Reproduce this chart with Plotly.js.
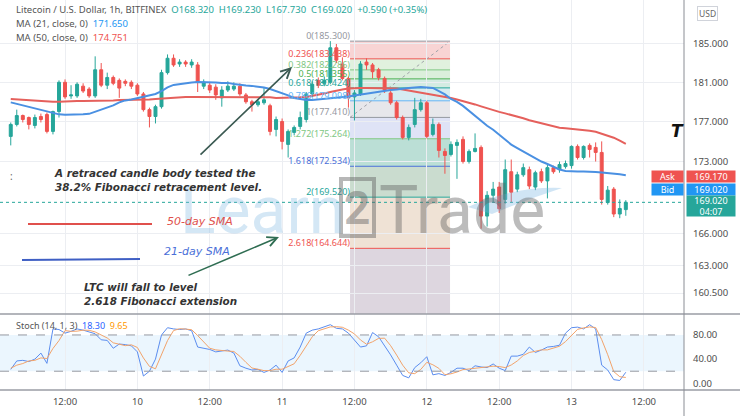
<!DOCTYPE html>
<html><head><meta charset="utf-8">
<script src="https://cdn.plot.ly/plotly-3.0.1.min.js"></script>
<style>html,body{margin:0;padding:0;background:#fff}#chart{width:740px;height:416px}</style>
</head><body><div id="chart"></div>
<script>
// ---------- data ----------
const startDay = 9, startHour = 3; // first hourly candle: 2021-10-09 03:00
const openP = [175.5,176.7,177.6,177.4,176.6,177.5,177.7,176.0,178.0,181.0,
179.6,179.6,180.6,180.3,179.6,182.3,180.7,181.5,181.2,181.1,
181.0,180.7,179.8,178.2,177.5,178.5,182.0,183.5,182.9,183.1,
182.8,182.8,180.6,180.7,180.5,179.4,180.2,180.3,180.6,179.7,
179.0,178.7,178.9,178.6,176.2,177.0,174.7,175.9,176.5,177.2,
179.8,181.2,180.9,181.0,184.6,182.9,181.4,179.5,179.8,183.1,
182.8,182.3,181.4,179.9,178.9,177.4,175.4,176.7,178.2,178.9,
175.7,176.7,174.0,173.7,174.6,175.2,173.0,174.0,174.4,167.7,
169.7,170.5,169.3,172.0,170.3,171.7,172.2,170.5,172.0,171.1,
172.4,172.2,172.5,172.6,174.5,173.4,174.6,174.4,173.9,169.0,
170.3,167.9,168.32];
const highP = [176.9,178.2,177.7,177.5,177.7,177.8,177.9,178.1,181.2,181.3,
180.7,181.0,180.9,180.5,183.7,183.0,182.0,181.7,181.4,181.3,
181.2,180.9,180.0,178.4,178.7,182.3,183.9,183.9,183.4,183.3,
183.4,183.1,181.3,181.0,180.8,180.6,181.1,181.0,180.9,179.9,
179.2,179.3,180.5,178.8,177.5,177.3,176.2,176.6,178.0,180.0,
181.1,181.5,181.6,185.3,185.0,183.6,181.6,180.2,183.2,183.5,
183.0,182.5,181.6,180.1,179.1,177.6,176.7,179.4,179.3,179.1,
177.3,176.9,174.3,175.0,175.2,175.5,174.2,175.8,174.6,170.1,
171.0,171.0,173.2,173.2,172.0,172.8,172.5,172.1,172.3,172.7,
172.6,173.0,173.1,174.6,174.7,174.6,174.8,174.9,175.0,170.6,
170.5,169.3,169.23];
const lowP = [174.6,176.5,176.9,176.2,176.3,176.9,175.8,175.7,177.4,179.3,
179.3,179.4,179.9,179.4,179.4,180.5,180.3,180.7,179.4,180.6,
180.3,179.6,178.0,176.4,176.8,178.3,181.8,182.6,182.6,182.6,
182.5,180.0,180.3,179.9,179.2,178.5,180.0,180.1,179.6,178.8,
178.0,178.5,178.7,175.6,175.5,174.2,173.4,175.6,176.2,176.9,
179.5,180.4,180.6,180.8,183.0,181.2,178.4,177.1,179.6,182.3,
181.4,181.2,179.9,178.7,177.2,175.2,175.1,176.4,178.0,175.3,
175.5,173.4,171.8,173.5,171.3,172.8,172.8,173.9,166.5,166.7,
169.0,168.0,168.9,169.0,170.0,171.5,170.3,170.2,170.9,169.4,
171.8,171.9,172.3,172.3,173.2,173.2,173.4,173.0,168.8,168.8,
167.6,167.5,167.73];
const closeP = [176.7,177.6,177.2,176.7,177.4,177.2,176.0,178.0,181.0,179.5,
179.7,180.8,180.1,179.6,182.3,180.7,181.5,180.9,180.4,180.9,
180.6,179.8,178.2,177.5,178.5,182.0,183.5,182.8,183.1,182.9,
183.1,181.0,181.0,180.2,179.7,180.2,180.6,180.6,179.8,179.0,
178.7,179.0,179.2,176.0,177.2,175.0,176.0,176.4,177.4,179.8,
180.8,180.7,181.2,184.6,183.3,181.4,179.4,179.9,182.9,182.8,
182.1,181.5,180.2,178.9,177.4,175.4,176.4,178.2,178.9,175.5,
176.7,174.1,173.6,174.7,174.9,173.0,174.0,174.3,167.7,169.7,
170.3,168.4,172.2,170.0,171.7,172.4,170.6,171.9,171.1,172.4,
172.0,172.7,172.8,174.5,173.4,174.5,174.2,173.9,169.3,170.2,
167.9,168.43,169.02];
const ma21 = [178.94,178.78,178.63,178.48,178.33,178.18,178.02,177.87,177.72,177.67,
177.67,177.67,177.72,177.77,177.97,178.18,178.38,178.63,178.94,179.14,
179.24,179.39,179.55,179.65,179.8,180.1,180.47,180.73,180.83,180.94,
180.99,181.04,181.04,181.04,180.99,180.94,180.94,180.83,180.73,180.68,
180.63,180.57,180.47,180.31,180.1,179.9,179.65,179.39,179.29,179.19,
179.19,179.24,179.29,179.34,179.39,179.45,179.55,179.65,179.75,179.85,
179.9,180.0,180.1,180.21,180.26,180.36,180.42,180.47,180.52,180.47,
180.42,180.1,179.75,179.29,178.99,178.58,178.07,177.52,177.02,176.57,
176.17,175.67,175.12,174.68,174.33,173.99,173.64,173.3,173.0,172.76,
172.47,172.22,172.08,172.03,172.03,172.03,172.03,171.98,171.93,171.88,
171.79,171.74,171.65];
const ma50 = [179.29,179.24,179.19,179.14,179.09,179.04,178.99,178.99,178.99,179.04,
179.04,179.09,179.09,179.09,179.09,179.09,179.14,179.14,179.19,179.19,
179.19,179.19,179.19,179.24,179.29,179.34,179.39,179.45,179.45,179.5,
179.5,179.5,179.5,179.5,179.5,179.5,179.5,179.5,179.5,179.5,
179.5,179.45,179.45,179.45,179.39,179.39,179.39,179.39,179.45,179.5,
179.6,179.7,179.85,180.0,180.16,180.26,180.36,180.42,180.42,180.42,
180.42,180.42,180.42,180.42,180.36,180.26,180.16,180.05,179.95,179.85,
179.7,179.6,179.5,179.39,179.24,179.09,178.94,178.73,178.53,178.33,
178.18,177.97,177.82,177.67,177.47,177.32,177.12,176.97,176.77,176.62,
176.47,176.37,176.32,176.27,176.22,176.17,176.07,175.97,175.77,175.57,
175.37,175.07,174.751];
const stochK = [23,37,38,36,40,50,33,90,89,83,
86,90,88,85,82,72,71,58,65,64,
62,52,12,20,40,80,92,90,89,90,
87,60,58,56,52,53,55,50,29,25,
22,23,18,22,30,18,37,42,60,83,
88,90,93,97,91,90,83,72,60,62,
84,77,63,47,30,13,9,26,34,44,
14,16,13,18,25,25,21,29,27,26,
32,25,21,45,45,48,60,51,55,60,
61,63,83,92,93,90,97,90,30,22,
6,4.7,18.3];
const stochD = [25,30,32.7,37,38,42,41,57.7,70.7,87.3,
86,86.3,88,87.7,85,79.7,75,67,64.7,62.3,
63.7,59.3,42,28,24,46.7,70.7,87.3,90.3,89.7,
88.7,79,68.3,58,55.3,53.7,53.3,52.7,44.7,34.7,
25.3,23.3,21,21,23.3,23.3,28.3,32.3,46.3,61.7,
77,87,90.3,93.3,93.7,92.7,88,81.7,71.7,64.7,
68.7,74.3,74.7,62.3,46.7,30,17.3,16,23,34.7,
30.7,24.7,14.3,15.7,18.7,22.7,23.7,25,25.7,27.3,
28.3,27.7,26,30.3,37,46,51,53,55.3,55.3,
58.7,61.3,69,79.3,89.3,91.7,93.3,92.3,72.3,47.3,
19.3,10.9,9.65];
const askPrice = 169.170, bidPrice = 169.020;
const barCountdown = '04:07';
const priceTickVals = [160.5, 163, 166, 173, 177, 181, 185];
const stochTickVals = [0, 40, 80];
const stochBands = [20, 80];
const timeTickVals = ['2021-10-09 12:00','2021-10-10 00:00','2021-10-10 12:00','2021-10-11 00:00',
  '2021-10-11 12:00','2021-10-12 00:00','2021-10-12 12:00','2021-10-13 00:00','2021-10-13 12:00'];
const timeTickText = ['12:00','10','12:00','11','12:00','12','12:00','13','12:00'];
const fibRatios = [0, 0.236, 0.382, 0.5, 0.618, 0.786, 1, 1.272, 1.618, 2, 2.618];
const fibStart = 185.300, fibEnd = 177.410;
const fibX0 = '2021-10-11 11:16', fibX1 = '2021-10-12 03:51';

// ---------- view / styles ----------
const W = 740, H = 416;
const px = v => v / W, py = v => 1 - v / H;
const xStart = '2021-10-09 01:13', xEnd = '2021-10-13 18:39';
const priceMin = 158.59, priceMax = 189.70;
const stochMin = -11.1, stochMax = 114.7;
const mainTop = 0, mainBottom = 314, stochBottom = 390, axisX = 684;
const UP = '#26a69a', DOWN = '#ef5350';
const fibLineColors = ['#9598a1','#ef5350','#81c784','#4caf50','#26a69a','#64b5f6','#9598a1','#81c784','#4a6fd8','#26a69a','#ef5350'];
const fibBandColors = ['#f8d4d4','#e1f1de','#dbefdb','#d3ece2','#d6ecf1','#e7e7eb','#dfe3f6','#bbdfd6','#cadccf','#efe2d5','#ddd6df'];

const pad = n => String(n).padStart(2, '0');
const times = openP.map((_, i) => {
  const h = startHour + i;
  return `2021-10-${pad(startDay + Math.floor(h / 24))} ${pad(h % 24)}:00`;
});
const n = closeP.length;
const fibPrices = fibRatios.map(r => fibStart - r * (fibStart - fibEnd));

const traces = [
  {type:'candlestick', x: times, open: openP, high: highP, low: lowP, close: closeP,
   xaxis:'x', yaxis:'y', whiskerwidth: 0,
   increasing:{line:{color:UP, width:1}, fillcolor:UP},
   decreasing:{line:{color:DOWN, width:1}, fillcolor:DOWN}, hoverinfo:'skip'},
  {type:'scatter', mode:'lines', x: times, y: ma50, xaxis:'x', yaxis:'y', line:{color:'#e5605c', width:2}},
  {type:'scatter', mode:'lines', x: times, y: ma21, xaxis:'x', yaxis:'y', line:{color:'#4a90e2', width:2}},
  {type:'scatter', mode:'text', x: fibRatios.map(() => fibX0), y: fibPrices,
   text: fibRatios.map((r, k) => `${r}(${fibPrices[k].toFixed(3)})`),
   textposition:'top left', textfont:{size:9, color: fibLineColors, family:'Noto Sans'},
   xaxis:'x', yaxis:'y', cliponaxis:false},
  {type:'scatter', mode:'lines', x: times, y: stochK, xaxis:'x2', yaxis:'y2', line:{color:'#5b8def', width:1}},
  {type:'scatter', mode:'lines', x: times, y: stochD, xaxis:'x2', yaxis:'y2', line:{color:'#f2a36b', width:1}}
];

const shapes = [];
// Fibonacci bands and levels
for (let k = 0; k < fibPrices.length; k++) {
  const lower = k < fibPrices.length - 1 ? fibPrices[k + 1] : priceMin;
  shapes.push({type:'rect', xref:'x', yref:'y', x0:fibX0, x1:fibX1, y0:fibPrices[k], y1:lower,
    fillcolor: fibBandColors[k], line:{width:0}, layer:'below'});
}
fibPrices.forEach((p, k) => shapes.push({type:'line', xref:'x', yref:'y', x0:fibX0, x1:fibX1, y0:p, y1:p,
  line:{color: fibLineColors[k], width:1}, layer:'below'}));
shapes.push({type:'line', xref:'x', yref:'y', x0:fibX0, x1:fibX1, y0:fibEnd, y1:fibStart,
  line:{color:'#a0a3aa', width:1, dash:'dot'}, layer:'below'});
// current price line
shapes.push({type:'line', xref:'paper', yref:'y', x0:0, x1:px(axisX), y0:closeP[n-1], y1:closeP[n-1],
  line:{color:UP, width:1, dash:'dot'}});
// stochastic band
shapes.push({type:'rect', xref:'paper', yref:'y2', x0:0, x1:px(axisX), y0:stochBands[0], y1:stochBands[1],
  fillcolor:'rgba(33,150,243,0.09)', line:{width:0}, layer:'below'});
stochBands.forEach(v => shapes.push({type:'line', xref:'paper', yref:'y2', x0:0, x1:px(axisX), y0:v, y1:v,
  line:{color:'#9598a1', width:1, dash:'dash'}}));
// pane separators and price-scale border
shapes.push({type:'line', xref:'paper', yref:'paper', x0:0, x1:1, y0:py(mainBottom), y1:py(mainBottom), line:{color:'#9a9da4', width:1.5}});
shapes.push({type:'line', xref:'paper', yref:'paper', x0:0, x1:1, y0:py(stochBottom), y1:py(stochBottom), line:{color:'#9a9da4', width:1.5}});
shapes.push({type:'line', xref:'paper', yref:'paper', x0:px(axisX), x1:px(axisX), y0:0, y1:1, line:{color:'#8a8d94', width:1}});
// legend strokes drawn on the chart
shapes.push({type:'line', xref:'paper', yref:'paper', x0:px(28), x1:px(152), y0:py(224), y1:py(224), line:{color:'#e0504c', width:2}});
shapes.push({type:'line', xref:'paper', yref:'paper', x0:px(22), x1:px(140), y0:py(260), y1:py(259), line:{color:'#3f5fc4', width:2}});
// watermark pieces
shapes.push({type:'rect', xref:'paper', yref:'paper', x0:px(341), x1:px(374), y0:py(236), y1:py(179),
  line:{color:'rgba(95,95,95,0.45)', width:4}, fillcolor:'rgba(0,0,0,0)'});
shapes.push({type:'path', xref:'paper', yref:'paper',
  path:`M ${px(468)},${py(207)} Q ${px(515)},${py(186)} ${px(562)},${py(188)} Q ${px(528)},${py(199)} ${px(492)},${py(214)} Z`,
  fillcolor:'rgba(120,180,225,0.35)', line:{width:0}});

const ann = [];
function txt(x, y, text, opts) {
  ann.push(Object.assign({xref:'paper', yref:'paper', x:px(x), y:py(y), text, showarrow:false,
    xanchor:'left', yanchor:'middle'}, opts || {}));
}
const last = n - 1;
const chg = closeP[last] - closeP[last - 1];
const pct = chg / closeP[last - 1] * 100;
const sp = '&nbsp;';
txt(14, 9, `Litecoin / U.S. Dollar, 1h, BITFINEX${sp}${sp}<span style="color:${UP}">O${openP[last].toFixed(3)}${sp}${sp}H${highP[last].toFixed(3)}${sp}${sp}L${lowP[last].toFixed(3)}${sp}${sp}C${closeP[last].toFixed(3)}${sp}${sp}+${chg.toFixed(3)} (+${pct.toFixed(2)}%)</span>`,
  {font:{size:9.5, color:'#555'}});
txt(14, 23, `MA (21, close, 0)${sp}${sp}<span style="color:#2196f3">${ma21[last].toFixed(3)}</span>`, {font:{size:9.5, color:'#555'}});
txt(14, 37, `MA (50, close, 0)${sp}${sp}<span style="color:#ef5350">${ma50[last].toFixed(3)}</span>`, {font:{size:9.5, color:'#555'}});
txt(14, 325, `Stoch (14, 1, 3)${sp}${sp}<span style="color:#2962ff">${stochK[last].toFixed(2)}</span>${sp}${sp}<span style="color:#ff9800">${stochD[last].toFixed(2)}</span>`, {font:{size:9, color:'#555'}});
// watermark
txt(178, 210, 'Learn', {font:{size:66, color:'rgba(120,180,225,0.32)', family:'Roboto'}});
txt(357, 208, '2', {xanchor:'center', font:{size:46, color:'rgba(95,95,95,0.45)', family:'Roboto', weight:700}});
txt(377, 210, 'Trade', {font:{size:66, color:'rgba(95,95,95,0.42)', family:'Roboto'}});
// comments
const noteFont = {size:10.4, color:'#333', family:'DejaVu Sans', style:'italic', weight:600};
txt(52, 180, 'A retraced candle body tested the<br>38.2% Fibonacci retracement level.', {font:noteFont, align:'left'});
txt(165, 221, '50-day SMA', {font:{size:11, color:'#e0504c', family:'DejaVu Sans', style:'italic'}});
txt(162, 251, '21-day SMA', {font:{size:11, color:'#4a6fd8', family:'DejaVu Sans', style:'italic'}});
txt(82, 294, 'LTC will fall to level<br>2.618 Fibonacci extension', {font:noteFont, align:'left'});
txt(677, 131, 'T', {xanchor:'center', font:{size:17, color:'#111', family:'DejaVu Sans', style:'italic', weight:700}});
txt(8, 176, ':', {font:{size:10, color:'#666'}});
// arrows
ann.push({xref:'paper', yref:'paper', x:px(292), y:py(67), ax:-93, ay:89, text:'', showarrow:true,
  arrowhead:5, arrowsize:1.2, arrowwidth:1.6, arrowcolor:'#3b5a52'});
ann.push({xref:'paper', yref:'paper', x:px(279), y:py(237), ax:-92, ay:39, text:'', showarrow:true,
  arrowhead:5, arrowsize:1.2, arrowwidth:1.6, arrowcolor:'#2f6d52'});
// price scale labels
function tag(x, y, text, bg, w, h, anchor) {
  ann.push({xref:'paper', yref:'paper', x:px(x), y:py(y), text, showarrow:false, xanchor:anchor || 'left',
    yanchor:'middle', bgcolor:bg, width:w, height:h, align:'center', borderpad:0,
    font:{size:9, color:'#fff'}});
}
tag(684, 176, 'Ask', DOWN, 31, 11, 'right');
tag(686, 176, askPrice.toFixed(3), DOWN, 48, 11);
tag(684, 189, 'Bid', '#2196f3', 31, 11, 'right');
tag(686, 189, bidPrice.toFixed(3), '#2196f3', 48, 11);
tag(686, 206, `${closeP[last].toFixed(3)}<br>${barCountdown}`, UP, 48, 20);
ann.push({xref:'paper', yref:'paper', x:px(707), y:py(14), text:'USD', showarrow:false, xanchor:'center', yanchor:'middle',
  bordercolor:'#d0d3da', borderwidth:1, borderpad:1, font:{size:8.5, color:'#666'}});

const layout = {
  width: W, height: H, margin:{l:0, r:0, t:0, b:0}, paper_bgcolor:'#fff', plot_bgcolor:'#fff',
  showlegend:false, hovermode:false, dragmode:false,
  font:{family:'Noto Sans', size:9, color:'#555'},
  xaxis:{type:'date', domain:[0, px(axisX)], range:[xStart, xEnd], anchor:'y', tickvals: timeTickVals,
    showticklabels:false, showgrid:true, gridcolor:'#eceef2', zeroline:false, rangeslider:{visible:false}, ticks:''},
  yaxis:{type:'log', domain:[py(mainBottom), py(mainTop)], range:[Math.log10(priceMin), Math.log10(priceMax)],
    anchor:'x', side:'right', tickvals: priceTickVals, ticktext: priceTickVals.map(v => v.toFixed(3)),
    showgrid:true, gridcolor:'#eceef2', zeroline:false, ticks:'', ticklabelstandoff:8,
    tickfont:{size:9.5, color:'#4d4d4d'}},
  xaxis2:{type:'date', domain:[0, px(axisX)], range:[xStart, xEnd], anchor:'y2', tickvals: timeTickVals,
    ticktext: timeTickText, showgrid:true, gridcolor:'#eceef2', zeroline:false, ticks:'',
    ticklabelstandoff:4, tickfont:{size:9.5, color:'#4d4d4d'}},
  yaxis2:{domain:[py(stochBottom), py(mainBottom)], range:[stochMin, stochMax], anchor:'x2', side:'right',
    tickvals: stochTickVals, ticktext: stochTickVals.map(v => v.toFixed(2)), showgrid:false, zeroline:false,
    ticks:'', ticklabelstandoff:8, tickfont:{size:9.5, color:'#4d4d4d'}},
  shapes, annotations: ann
};
Plotly.newPlot('chart', traces, layout, {staticPlot:true, displayModeBar:false});
</script></body></html>
